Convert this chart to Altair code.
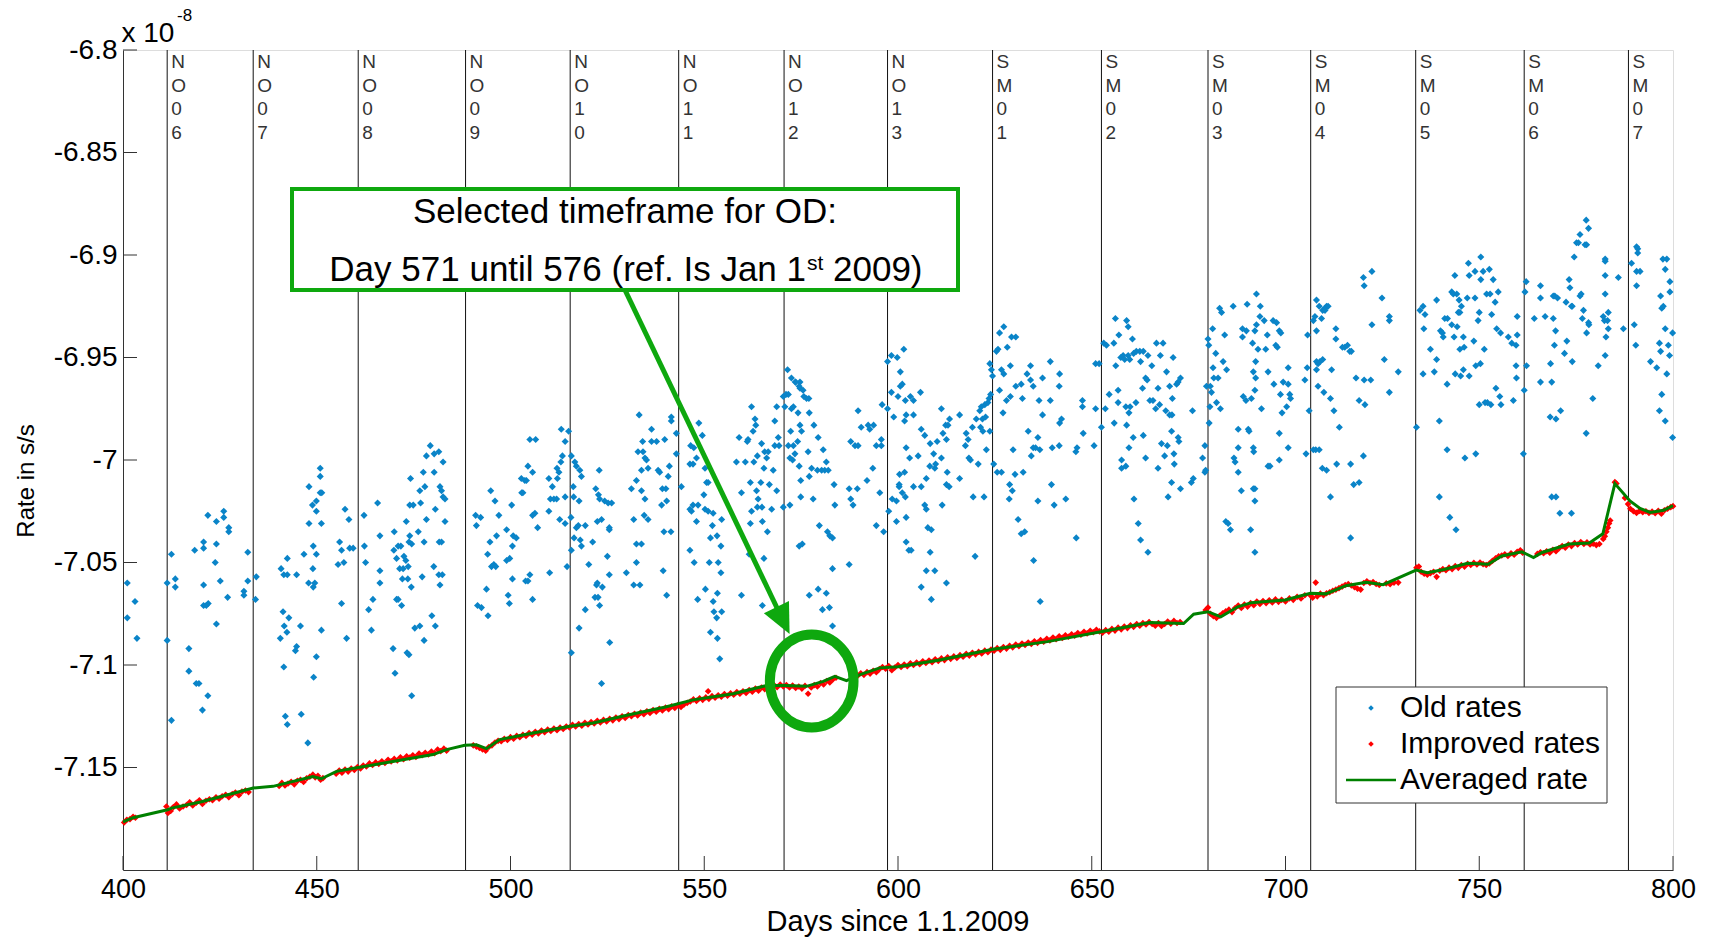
import altair as alt
import pandas as pd

FONT = "Liberation Sans"
W, H = 1550, 820
GREEN_NOTE = "#0EA80E"

# ---------------- data ----------------
maneuver_days = [411.4, 433.6, 460.7, 488.4, 515.4, 543.4, 570.6, 597.3, 624.4,
                 652.5, 680.0, 706.5, 733.6, 761.6, 788.5]
maneuver_names = ["NO06", "NO07", "NO08", "NO09", "NO10", "NO11", "NO12", "NO13",
                  "SM01", "SM02", "SM03", "SM04", "SM05", "SM06", "SM07"]
x_ticks = [400, 450, 500, 550, 600, 650, 700, 750, 800]
y_ticks = [-6.8, -6.85, -6.9, -6.95, -7.0, -7.05, -7.1, -7.15]

old_rates = [
    # arc 1
    (401.1, -7.060), (403.1, -7.069), (401.1, -7.077), (403.6, -7.087),
    # arc 2
    (412.5, -7.046), (411.4, -7.060), (413.5, -7.058), (413.5, -7.062), (411.4, -7.088), (412.5, -7.127),
    (417.0, -7.092), (417.0, -7.103), (418.5, -7.044), (418.9, -7.109), (419.6, -7.109), (420.5, -7.122),
    (420.8, -7.040), (420.8, -7.043), (420.8, -7.061), (420.8, -7.071), (421.5, -7.071), (422.0, -7.070),
    (421.9, -7.027), (421.9, -7.115), (424.1, -7.030), (424.1, -7.041), (423.8, -7.050), (424.1, -7.080),
    (425.1, -7.059), (426.0, -7.025), (426.0, -7.028), (427.0, -7.067), (427.3, -7.033), (427.3, -7.035),
    (431.2, -7.064), (431.2, -7.066), (432.2, -7.045), (432.2, -7.059),
    # arc 3
    (434.4, -7.057), (434.2, -7.068), (440.8, -7.053), (441.5, -7.056), (442.4, -7.048), (442.4, -7.056),
    (444.8, -7.056), (441.3, -7.074), (442.8, -7.077), (441.6, -7.081), (442.3, -7.084), (440.6, -7.087),
    (441.5, -7.101), (441.9, -7.125), (442.4, -7.129), (444.5, -7.093), (444.8, -7.091), (445.8, -7.081),
    (446.0, -7.124), (446.7, -7.046), (447.7, -7.138), (448.0, -7.013), (448.0, -7.031), (447.9, -7.060),
    (448.9, -7.022), (449.0, -7.053), (449.1, -7.042), (449.1, -7.062), (449.5, -7.060), (449.9, -7.046),
    (449.9, -7.020), (449.9, -7.025), (449.2, -7.106), (449.9, -7.096), (450.9, -7.004), (450.9, -7.008),
    (450.9, -7.016), (451.3, -7.016), (451.2, -7.031), (451.2, -7.083), (455.5, -7.051), (455.9, -7.040),
    (456.4, -7.070), (456.4, -7.044), (457.0, -7.050), (457.3, -7.024), (457.7, -7.087), (458.3, -7.029),
    (458.5, -7.043), (459.4, -7.043),
    # arc 4
    (462.2, -7.027), (462.3, -7.042), (462.6, -7.050), (463.4, -7.073), (464.1, -7.083), (464.5, -7.068),
    (465.7, -7.021), (466.3, -7.037), (466.3, -7.054), (466.3, -7.060), (469.7, -7.092), (470.0, -7.035),
    (470.2, -7.104), (470.6, -7.068), (471.0, -7.068), (469.9, -7.044), (470.6, -7.048), (471.0, -7.042),
    (471.7, -7.042), (471.4, -7.053), (471.9, -7.071), (472.1, -7.058), (472.3, -7.053), (472.5, -7.047),
    (473.0, -7.049), (473.1, -7.030), (473.3, -7.094), (473.5, -7.058), (473.6, -7.052), (473.8, -7.095),
    (473.8, -7.040), (474.0, -7.022), (474.0, -7.037), (474.2, -7.009), (474.4, -7.062), (474.5, -7.041),
    (474.5, -7.115), (474.9, -7.022), (475.3, -7.082), (476.2, -7.035), (476.6, -7.081), (476.8, -7.021),
    (476.6, -7.015), (477.2, -7.057), (477.5, -7.006), (477.7, -7.040), (477.7, -7.088), (477.9, -7.013),
    (478.3, -7.029), (478.3, -6.998), (479.3, -6.993), (479.7, -7.076), (480.2, -7.052), (480.3, -6.997),
    (480.3, -7.006), (480.6, -7.024), (480.6, -7.081), (481.5, -6.996), (481.5, -7.056), (481.6, -7.040),
    (481.8, -7.061), (481.8, -7.013), (482.2, -7.015), (482.2, -7.040), (482.4, -7.056), (482.6, -7.001),
    (482.6, -7.018), (483.1, -7.019), (483.1, -7.030),
    # arc 5
    (491.0, -7.027), (491.2, -7.032), (491.5, -7.071), (492.5, -7.072), (492.3, -7.028), (494.1, -7.046),
    (494.2, -7.076), (493.8, -7.063), (494.7, -7.040), (494.9, -7.015), (495.1, -7.052), (495.7, -7.051),
    (496.2, -7.052), (496.4, -7.037), (497.0, -7.027), (496.0, -7.020), (499.0, -7.034), (499.0, -7.049),
    (499.4, -7.066), (499.7, -7.070), (500.3, -7.022), (500.5, -7.058), (500.7, -7.037), (501.5, -7.038),
    (500.5, -7.042), (499.8, -7.048), (502.8, -7.009), (502.9, -7.016),
    (503.2, -7.016), (503.7, -7.010), (504.1, -7.010), (503.9, -7.059), (504.5, -7.059), (505.0, -7.056),
    (505.7, -7.068), (504.5, -7.003), (505.7, -7.006), (505.0, -6.990), (506.5, -6.990), (505.7, -7.027),
    (506.3, -7.026), (507.0, -7.033), (509.9, -7.009), (509.9, -7.025), (510.1, -7.055), (510.8, -7.013),
    (510.3, -7.019), (511.2, -7.019), (511.9, -7.019), (512.1, -7.009), (512.0, -7.004), (512.5, -7.006),
    (512.7, -7.029), (513.0, -7.001), (513.1, -6.985), (513.4, -6.998), (514.1, -6.991), (514.1, -7.031),
    (514.6, -7.052), (514.1, -7.018), (515.0, -6.986),
    # arc 6
    (515.7, -6.998), (515.6, -7.028), (515.7, -7.044), (516.2, -7.013), (516.3, -7.018), (516.6, -7.001),
    (517.0, -7.003), (516.4, -7.038), (517.0, -7.033), (517.5, -7.032), (517.7, -7.020), (517.9, -7.005),
    (518.3, -7.008), (518.0, -7.039), (518.3, -7.042), (519.3, -7.032), (519.3, -7.073), (517.7, -7.082),
    (515.7, -7.094), (520.2, -7.051), (521.2, -7.040), (522.0, -7.014), (522.2, -7.061), (522.4, -7.060),
    (522.9, -7.005), (522.7, -7.017), (523.0, -7.019), (522.4, -7.030), (523.5, -7.029), (521.8, -7.067),
    (522.6, -7.067), (523.0, -7.071), (523.7, -7.062), (523.5, -7.109), (524.3, -7.020), (525.2, -7.021),
    (526.1, -7.021), (525.5, -7.033), (525.5, -7.034), (525.0, -7.047), (525.5, -7.056), (525.6, -7.089),
    (529.9, -7.055), (531.2, -7.014), (531.8, -7.029), (531.8, -7.061), (532.5, -7.010), (532.5, -7.041),
    (532.5, -7.050), (533.2, -6.978), (532.9, -6.996), (533.4, -7.061), (533.8, -7.015), (533.8, -7.041),
    (534.1, -6.991), (534.2, -6.996), (534.5, -7.027), (534.7, -7.019), (534.7, -6.999), (535.1, -7.000),
    (535.5, -7.004), (535.5, -7.029), (533.8, -7.005), (536.4, -6.985), (536.4, -6.991), (537.7, -6.991),
    (538.1, -7.005), (538.5, -7.006), (539.0, -7.022), (539.2, -7.014), (539.4, -7.054), (539.6, -7.035),
    (539.8, -6.990), (540.1, -7.014), (540.3, -7.020), (540.3, -7.066), (540.7, -7.008), (541.0, -7.003),
    (541.4, -7.035), (541.5, -6.979), (541.5, -6.981), (542.8, -6.987), (542.8, -6.997),
    # arc 7
    (544.1, -7.013), (546.5, -6.993), (546.3, -7.002), (547.1, -7.002), (547.3, -6.994), (548.0, -6.999),
    (548.6, -6.982), (549.5, -6.988), (546.3, -7.024), (546.7, -7.025), (547.1, -7.022), (548.0, -7.030),
    (548.4, -7.022), (546.3, -7.044), (547.4, -7.050), (548.3, -7.068), (550.2, -7.004), (550.3, -7.063),
    (550.6, -7.011), (551.0, -7.011), (549.9, -7.017), (550.2, -7.024), (551.0, -7.025), (552.3, -7.026),
    (552.1, -7.032), (551.3, -7.050), (551.6, -7.038), (552.3, -7.069), (552.5, -7.074), (553.2, -7.077),
    (553.3, -7.037), (553.6, -7.050), (553.4, -7.065), (554.3, -7.055), (554.5, -7.074), (554.5, -7.029),
    (551.6, -7.084), (553.4, -7.087), (554.0, -7.097), (554.3, -7.042), (559.0, -6.989), (558.3, -7.001),
    (560.6, -7.001), (559.6, -7.016), (559.6, -7.066), (561.1, -6.991), (561.3, -6.990), (561.6, -7.046),
    (561.9, -7.031), (561.9, -7.011), (562.2, -6.974), (562.2, -7.025), (562.6, -6.986), (562.8, -7.001),
    (563.1, -6.980), (563.3, -6.983), (563.5, -7.015), (563.7, -6.998), (563.7, -7.023), (563.9, -7.019),
    (564.6, -7.011), (564.8, -6.992), (564.9, -7.023), (565.0, -7.030), (565.0, -7.071), (565.4, -7.004),
    (565.4, -7.048), (565.6, -6.996), (566.1, -6.999), (566.3, -7.035), (566.5, -6.996), (566.8, -7.012),
    (567.4, -7.024), (567.8, -7.005), (568.2, -6.981), (568.2, -6.993), (568.7, -7.015), (568.7, -6.974),
    (569.1, -6.989), (569.3, -6.993), (570.4, -6.969), (570.4, -7.023),
    # arc 8
    (570.8, -6.974), (571.1, -6.968), (571.7, -6.968), (571.7, -6.993), (572.5, -6.975), (573.0, -6.974),
    (572.3, -6.986), (572.1, -6.999), (572.8, -7.000), (573.4, -6.997), (573.0, -6.993), (573.6, -6.962),
    (574.7, -6.962), (574.7, -6.965), (574.2, -6.977), (574.1, -6.991), (574.5, -7.003), (574.7, -6.983),
    (575.1, -6.986), (574.9, -7.010), (574.9, -7.018), (572.1, -7.022), (574.5, -7.042), (575.3, -7.041),
    (575.7, -6.969), (576.4, -6.970), (577.1, -6.977), (576.8, -6.996), (577.7, -7.004), (577.1, -7.008),
    (578.3, -6.983), (578.1, -7.019), (579.4, -6.989), (579.7, -7.032), (579.2, -7.005), (580.3, -7.005),
    (580.7, -6.995), (581.1, -7.005), (581.5, -7.001), (582.0, -7.005), (581.8, -7.035), (582.4, -7.037),
    (583.1, -7.038), (583.5, -7.012), (583.7, -7.022), (583.1, -7.053), (577.1, -7.066), (579.4, -7.063),
    (581.5, -7.065), (580.5, -7.073), (582.3, -7.072), (583.1, -7.081), (587.4, -7.051), (587.4, -7.014),
    (588.4, -7.022), (587.8, -7.019), (587.8, -6.991), (588.9, -6.993), (589.7, -6.976), (589.7, -6.993),
    (589.5, -7.014), (571.5, -6.956), (572.5, -6.960), (573.5, -6.962), (574.5, -6.964), (575.5, -6.966),
    (577.0, -6.970),
    (590.5, -6.984), (592.3, -6.983), (592.7, -6.985), (593.7, -6.983), (594.4, -6.993), (595.7, -6.993),
    (595.7, -6.990), (593.5, -7.004), (592.0, -7.010), (595.3, -7.016), (594.4, -7.032), (596.3, -7.035),
    (595.9, -6.973),
    # arc 9
    (597.3, -6.952), (597.3, -6.975), (597.6, -7.025), (598.3, -6.949), (598.3, -6.967), (598.9, -6.979),
    (598.5, -7.019), (599.6, -7.020), (599.6, -7.030), (599.8, -6.950), (600.0, -6.969), (600.3, -7.012),
    (600.3, -7.013), (600.4, -7.007), (600.6, -6.957), (600.6, -6.964), (601.1, -6.963), (601.1, -7.016),
    (601.5, -6.946), (601.7, -6.981), (601.9, -6.971), (602.1, -6.978), (602.1, -6.994), (601.7, -7.006),
    (601.9, -7.018), (602.1, -7.028), (602.1, -7.040), (602.8, -7.044), (603.4, -7.044), (603.0, -6.999),
    (603.2, -6.969), (604.0, -6.978), (604.0, -6.971), (604.0, -7.013), (605.2, -6.998), (605.8, -6.967),
    (606.0, -6.985), (606.0, -7.013), (606.0, -7.062), (606.9, -6.988), (606.9, -7.022), (607.3, -7.024),
    (607.3, -7.009), (607.3, -7.054), (607.7, -7.033), (608.3, -6.992), (608.6, -7.034), (608.3, -7.045),
    (608.6, -7.068), (609.2, -6.997), (609.5, -7.004), (609.5, -7.054), (609.7, -7.002), (610.1, -6.991),
    (608.2, -7.003), (611.2, -6.975), (611.2, -6.999), (611.4, -7.022), (611.6, -6.987), (612.3, -6.983),
    (612.5, -6.990), (612.7, -7.006), (612.5, -7.012), (613.2, -7.013), (612.5, -7.060), (613.3, -6.980),
    (612.9, -6.983), (615.9, -6.978), (615.9, -7.009), (617.4, -6.993), (617.6, -6.987), (618.1, -6.990),
    (618.3, -6.999), (618.7, -7.000), (619.2, -6.984), (619.4, -7.018), (619.9, -7.047), (620.2, -6.980),
    (620.7, -7.002), (621.1, -6.976), (621.3, -6.984), (621.5, -6.974), (621.8, -6.980), (621.9, -6.986),
    (622.2, -7.018), (622.4, -6.973), (622.6, -6.979), (622.8, -6.995), (623.2, -6.972), (623.5, -6.970),
    (623.7, -6.986), (623.7, -6.953), (624.1, -6.956), (624.4, -6.959), (623.9, -6.968),
    # arc 10
    (624.7, -7.002), (625.4, -6.947), (625.8, -6.946), (625.6, -7.006), (626.7, -7.006), (626.2, -6.938),
    (626.2, -6.966), (626.7, -6.956), (627.1, -6.977), (627.3, -6.935), (627.3, -6.958), (628.0, -6.971),
    (628.2, -6.945), (628.8, -7.012), (629.0, -6.969), (629.0, -6.954), (629.3, -6.940), (628.7, -7.019),
    (629.5, -7.015), (629.7, -6.995), (630.4, -6.940), (630.4, -6.964), (630.2, -7.007), (631.0, -7.029),
    (631.8, -6.963), (632.1, -6.970), (632.3, -7.006), (631.8, -7.036), (632.7, -7.035), (633.3, -6.958),
    (633.6, -6.986), (634.2, -6.954), (634.2, -6.961), (634.4, -6.998), (634.9, -6.964), (634.9, -6.994),
    (635.0, -7.049), (635.5, -6.994), (636.1, -6.989), (636.1, -7.020), (636.4, -6.971), (636.6, -6.995),
    (636.7, -7.069), (637.3, -6.960), (637.3, -6.978), (639.3, -6.952), (639.3, -6.971), (639.6, -7.012),
    (639.8, -6.994), (640.3, -7.022), (641.6, -6.964), (641.7, -6.958), (641.6, -6.993), (641.7, -6.982),
    (642.2, -6.980), (643.3, -7.019), (645.9, -6.996), (646.2, -6.994), (646.0, -7.038), (647.6, -6.971),
    (647.6, -6.974), (647.8, -6.987), (650.6, -6.993), (651.0, -6.953), (651.0, -6.975), (651.9, -6.953),
    (652.5, -6.984),
    # arc 11
    (653.1, -6.943), (653.8, -6.944), (653.5, -6.975), (654.5, -6.968), (655.8, -6.982), (656.1, -6.931),
    (655.7, -6.943), (656.2, -6.954), (656.8, -6.966), (656.8, -6.972), (657.0, -6.939), (657.7, -7.000),
    (657.7, -7.004), (657.5, -6.950), (658.1, -6.949), (658.5, -6.951), (658.8, -7.003), (658.8, -6.974),
    (659.0, -6.983), (659.0, -6.932), (659.4, -6.935), (659.4, -6.949), (659.6, -6.977), (659.8, -6.951),
    (659.6, -6.994), (659.9, -6.974), (660.5, -6.941), (660.7, -6.989), (660.8, -6.948), (660.9, -7.019),
    (661.4, -6.972), (661.5, -6.947), (662.0, -7.031), (662.4, -6.947), (662.6, -6.952), (662.6, -7.039),
    (663.3, -6.947), (663.1, -6.965), (663.3, -6.988), (663.9, -6.999), (663.9, -6.960), (664.3, -6.961),
    (664.5, -7.045), (664.5, -6.949), (665.0, -6.971), (665.5, -6.954), (665.8, -6.971), (666.5, -6.975),
    (666.7, -6.943), (667.1, -6.965), (667.1, -7.004), (667.5, -6.973), (667.7, -6.949), (668.0, -6.992),
    (668.4, -6.943), (668.8, -6.998), (669.1, -6.976), (669.3, -6.957), (669.5, -6.993), (669.7, -7.018),
    (670.1, -6.964), (670.1, -6.978), (670.6, -6.986), (670.6, -7.011), (670.7, -6.978), (670.8, -6.970),
    (671.0, -6.950), (671.2, -6.997), (671.3, -7.002), (671.9, -6.963), (672.3, -6.989), (672.3, -6.962),
    (672.5, -6.991), (672.9, -6.960), (672.9, -7.014), (675.7, -7.011), (676.0, -6.976), (676.2, -7.009),
    (678.6, -6.999), (679.2, -7.006), (679.2, -6.993), (679.6, -6.964), (679.4, -7.005),
    # arc 12
    (680.0, -6.941), (680.2, -6.944), (680.6, -6.964), (680.5, -6.974), (680.3, -6.982), (680.9, -6.967),
    (681.2, -6.936), (681.3, -6.955), (681.5, -6.960), (682.2, -6.972), (682.0, -6.948), (682.6, -6.960),
    (683.0, -6.926), (683.5, -6.928), (683.2, -6.975), (683.9, -6.952), (684.3, -6.939), (684.8, -6.956),
    (684.6, -7.030), (685.2, -7.031), (685.8, -7.034), (686.5, -6.925), (686.7, -6.999), (687.0, -7.001),
    (687.8, -6.985), (687.8, -6.994), (687.8, -7.006), (688.6, -7.015), (688.9, -6.936), (688.9, -6.940),
    (689.1, -6.969), (689.8, -6.971), (690.1, -6.924), (689.9, -6.937), (690.4, -6.985), (690.6, -6.986),
    (691.0, -7.034), (691.2, -6.970), (691.5, -6.943), (691.7, -6.957), (691.7, -6.994), (691.8, -6.996),
    (691.7, -7.014), (692.1, -7.014), (692.1, -7.020), (692.1, -7.045), (692.1, -6.937), (692.1, -6.966),
    (692.3, -6.952), (692.3, -6.960), (692.5, -6.919), (692.5, -6.934), (692.9, -6.946), (693.4, -6.930),
    (693.5, -6.925), (693.8, -6.975), (694.5, -6.932), (694.9, -6.946), (695.3, -6.939), (695.5, -6.957),
    (695.5, -7.003),
    (696.8, -6.932), (697.7, -6.933), (698.4, -6.937), (698.8, -6.938), (697.5, -6.944), (697.9, -6.945),
    (700.7, -6.955), (697.0, -6.963), (699.4, -6.962), (700.7, -6.963), (698.7, -6.968), (701.1, -6.968),
    (701.3, -6.970), (700.3, -6.974), (699.1, -6.977), (698.4, -6.987), (700.7, -6.994), (698.4, -7.000),
    (696.0, -7.003), (705.0, -6.961), (705.6, -6.955), (705.7, -6.939), (706.1, -6.976), (705.3, -6.997),
    # arc 13
    (707.2, -6.932), (707.6, -6.930), (708.0, -6.922), (708.0, -6.937), (708.7, -6.925), (709.3, -6.931),
    (709.6, -6.927), (710.2, -6.926), (710.6, -6.925), (711.0, -6.925), (710.2, -6.927), (708.0, -6.952),
    (708.4, -6.953), (708.9, -6.952), (709.6, -6.951), (708.0, -6.956), (708.4, -6.964), (709.9, -6.967),
    (711.6, -6.970), (711.9, -6.956), (712.5, -6.976), (713.0, -6.936), (713.0, -6.941), (713.9, -6.984),
    (714.7, -6.945), (715.3, -6.945), (716.0, -6.944), (716.6, -6.947), (717.0, -6.947), (718.2, -6.960),
    (719.0, -6.971), (720.3, -6.961), (720.5, -6.973), (722.0, -6.961), (720.1, -6.911), (720.3, -6.915),
    (722.3, -6.908), (722.3, -6.934), (724.9, -6.921), (725.5, -6.951), (726.8, -6.930), (726.8, -6.932),
    (726.8, -6.967), (729.1, -6.957), (707.2, -6.995), (707.8, -6.995), (708.7, -6.995), (709.5, -7.004),
    (710.6, -7.005), (711.6, -7.018), (713.2, -7.002), (716.8, -7.002), (716.8, -7.038), (717.6, -7.012),
    (719.0, -7.011), (720.1, -6.998),
    # arc 14
    (733.8, -6.984), (734.7, -6.927), (735.5, -6.925), (736.0, -6.929), (735.7, -6.936), (735.5, -6.958),
    (737.4, -6.946), (738.4, -6.957), (739.0, -6.922), (739.0, -6.951), (739.7, -6.981), (739.7, -7.018),
    (740.0, -6.937), (740.5, -6.938), (740.7, -6.940), (741.1, -6.931), (741.7, -6.963), (741.7, -6.995),
    (741.8, -6.931), (742.4, -7.028), (742.9, -6.918), (742.9, -6.934), (743.3, -6.919), (743.5, -6.940),
    (743.7, -6.910), (743.8, -6.958), (744.0, -7.034), (744.2, -6.919), (744.3, -6.935), (744.6, -6.928),
    (744.8, -6.922), (745.0, -6.946), (745.0, -6.928), (745.2, -6.959), (745.4, -6.925), (745.9, -6.940),
    (745.9, -6.956), (746.1, -6.945), (746.3, -6.999), (746.9, -6.921), (747.2, -6.904), (747.4, -6.910),
    (747.4, -6.959), (748.6, -6.942), (748.9, -6.921), (748.9, -6.908), (749.1, -6.954), (749.1, -6.997),
    (749.7, -6.932), (750.0, -6.928), (750.0, -6.973), (750.3, -6.953), (750.4, -6.901), (750.4, -6.912),
    (751.0, -6.908), (751.3, -6.946), (751.5, -6.972), (751.9, -6.919), (752.1, -6.972), (752.6, -6.907),
    (752.8, -6.919), (753.0, -6.973), (753.2, -6.929), (753.6, -6.912), (754.1, -6.923), (754.3, -6.965),
    (754.5, -6.936), (754.9, -6.918), (755.3, -6.969), (755.5, -6.938), (755.6, -6.973), (757.5, -6.940),
    (758.4, -6.943), (758.8, -6.971), (759.5, -6.944), (759.5, -6.954), (759.6, -6.960), (759.8, -6.939),
    (759.8, -6.930), (761.4, -6.997), (761.6, -6.966),
    # arc 15
    (762.1, -6.913), (761.8, -6.918), (762.2, -6.954), (764.2, -6.931), (765.8, -6.915), (765.8, -6.921),
    (765.8, -6.962), (767.0, -6.930), (768.4, -6.953), (768.7, -6.962), (768.3, -6.979), (768.7, -7.018),
    (769.1, -6.920), (769.1, -6.931), (769.5, -6.920), (769.7, -6.937), (769.4, -6.944), (769.8, -6.980),
    (769.8, -7.018), (770.2, -6.921), (770.8, -7.026), (771.0, -6.976), (772.0, -6.948), (772.4, -6.923),
    (772.6, -6.942), (773.2, -6.912), (773.4, -6.916), (773.8, -6.925), (773.8, -7.026), (774.0, -6.952),
    (774.0, -6.925), (774.5, -6.901), (775.1, -6.894), (775.6, -6.894), (776.0, -6.890), (776.0, -6.920),
    (776.3, -6.919), (776.6, -6.931), (776.9, -6.927), (777.3, -6.895), (777.6, -6.883), (777.7, -6.938),
    (777.7, -6.895), (778.2, -6.887), (778.2, -6.933), (778.3, -6.934), (777.6, -6.987), (779.3, -6.970),
    (780.7, -6.954), (782.0, -6.930), (782.3, -6.932), (782.5, -6.902), (782.5, -6.903), (782.5, -6.910),
    (782.5, -6.919), (782.7, -6.940), (782.5, -6.949), (783.1, -6.932), (783.3, -6.928), (783.3, -6.936),
    (785.9, -6.911), (787.2, -6.936),
    # arc 16
    (789.3, -6.904), (790.0, -6.934), (790.4, -6.944), (790.6, -6.896), (790.9, -6.897), (790.9, -6.899),
    (790.6, -6.908), (791.5, -6.908), (790.6, -6.915), (794.2, -6.952), (795.8, -6.955), (796.5, -6.943),
    (796.5, -6.976), (796.8, -6.947), (797.1, -6.926), (797.5, -6.925), (796.8, -6.920), (797.4, -6.902),
    (798.4, -6.902), (798.0, -6.907), (798.0, -6.936), (798.4, -6.958), (798.8, -6.944), (799.1, -6.949),
    (799.2, -6.913), (799.2, -6.918), (797.1, -6.968), (798.0, -6.981), (799.9, -6.938), (799.9, -6.989),
]

improved_rates = [
    (400.3, -7.1768), (401.0, -7.1755), (401.8, -7.1752), (402.6, -7.1740), (403.2, -7.1745),
    (411.2, -7.1690), (411.6, -7.1722), (412.3, -7.1712), (413.0, -7.1693), (413.8, -7.1680), (414.6, -7.1700),
    (415.5, -7.1690), (416.4, -7.1683), (417.2, -7.1670), (418.0, -7.1685), (418.9, -7.1672), (419.7, -7.1660),
    (420.5, -7.1678), (421.4, -7.1662), (422.3, -7.1655), (423.1, -7.1660), (424.0, -7.1645), (424.8, -7.1652),
    (425.6, -7.1640), (426.5, -7.1633), (427.3, -7.1645), (428.2, -7.1630), (429.0, -7.1622), (429.9, -7.1635),
    (430.7, -7.1618), (431.6, -7.1612), (432.4, -7.1620),
    (440.3, -7.1590), (441.0, -7.1575), (441.8, -7.1588), (442.6, -7.1578), (443.4, -7.1570), (444.2, -7.1582),
    (445.0, -7.1565), (445.8, -7.1560), (446.6, -7.1571), (447.4, -7.1553), (448.2, -7.1545), (449.0, -7.1535),
    (449.6, -7.1548), (450.3, -7.1540), (451.0, -7.1560), (451.6, -7.1552),
    (455.0, -7.1530), (455.8, -7.1515), (456.5, -7.1525), (457.3, -7.1510), (458.1, -7.1520), (458.9, -7.1505),
    (459.7, -7.1512), (460.5, -7.1498), (461.3, -7.1505), (462.0, -7.1490), (462.8, -7.1495), (463.6, -7.1480),
    (464.4, -7.1488), (465.2, -7.1475), (466.0, -7.1482), (466.8, -7.1470), (467.6, -7.1478), (468.4, -7.1462),
    (469.2, -7.1470), (470.0, -7.1458), (470.8, -7.1465), (471.6, -7.1450), (472.4, -7.1460), (473.2, -7.1445),
    (474.0, -7.1452), (474.8, -7.1440), (475.6, -7.1448), (476.4, -7.1432), (477.2, -7.1440), (478.0, -7.1428),
    (478.8, -7.1436), (479.6, -7.1422), (480.4, -7.1430), (481.2, -7.1412), (482.0, -7.1420), (482.8, -7.1408),
    (483.5, -7.1418),
    (490.4, -7.1392), (491.2, -7.1398), (492.0, -7.1405), (492.8, -7.1412), (493.6, -7.1418), (494.4, -7.1400),
    (495.2, -7.1392), (496.0, -7.1378), (496.8, -7.1370), (497.6, -7.1372), (498.4, -7.1360), (499.2, -7.1366),
    (500.0, -7.1352), (500.8, -7.1360), (501.6, -7.1346), (502.4, -7.1352), (503.2, -7.1340), (504.0, -7.1346),
    (504.8, -7.1332), (505.6, -7.1340), (506.4, -7.1326), (507.2, -7.1334), (508.0, -7.1320), (508.8, -7.1328),
    (509.6, -7.1315), (510.4, -7.1322), (511.2, -7.1310), (512.0, -7.1318), (512.8, -7.1305), (513.6, -7.1312),
    (514.4, -7.1300), (515.2, -7.1305), (516.0, -7.1292), (516.8, -7.1300), (517.6, -7.1288), (518.4, -7.1296),
    (519.2, -7.1282), (520.0, -7.1290), (520.8, -7.1278), (521.6, -7.1285),
    (522.4, -7.1272), (523.2, -7.1280), (524.0, -7.1268), (524.8, -7.1275), (525.6, -7.1262), (526.4, -7.1270),
    (527.2, -7.1256), (528.0, -7.1264), (528.8, -7.1250), (529.6, -7.1258), (530.4, -7.1244), (531.2, -7.1250),
    (532.0, -7.1238), (532.8, -7.1246), (533.6, -7.1232), (534.4, -7.1240), (535.2, -7.1226), (536.0, -7.1234),
    (536.8, -7.1220), (537.6, -7.1228), (538.4, -7.1214), (539.2, -7.1222), (540.0, -7.1208), (540.8, -7.1216),
    (541.6, -7.1202), (542.4, -7.1210), (543.2, -7.1196),
    (544.0, -7.1205), (544.8, -7.1192), (545.6, -7.1185), (546.4, -7.1178), (547.2, -7.1168), (548.0, -7.1175),
    (548.8, -7.1162), (549.6, -7.1170), (550.4, -7.1158), (551.0, -7.1128), (551.2, -7.1165), (552.0, -7.1152),
    (552.8, -7.1160), (553.6, -7.1148), (554.4, -7.1155), (555.2, -7.1142), (556.0, -7.1150), (556.8, -7.1138),
    (557.6, -7.1145), (558.4, -7.1132), (559.2, -7.1140), (560.0, -7.1128), (560.8, -7.1136), (561.6, -7.1122),
    (562.4, -7.1130), (563.2, -7.1115), (564.0, -7.1125), (564.8, -7.1110), (565.6, -7.1118), (566.4, -7.1102),
    (567.2, -7.1112), (568.0, -7.1098), (568.8, -7.1108), (569.6, -7.1095), (570.4, -7.1105), (571.2, -7.1098),
    (572.0, -7.1110), (572.8, -7.1100), (573.6, -7.1112), (574.4, -7.1105), (575.2, -7.1115), (576.0, -7.1102),
    (576.8, -7.1140), (577.6, -7.1110), (578.4, -7.1098), (579.2, -7.1105), (580.0, -7.1088), (580.8, -7.1095),
    (581.6, -7.1078), (582.4, -7.1085), (583.2, -7.1070), (584.0, -7.1062),
    (589.6, -7.1052), (590.4, -7.1040), (591.2, -7.1048), (592.0, -7.1035), (592.8, -7.1042), (593.6, -7.1028),
    (594.4, -7.1035), (595.2, -7.1020), (596.0, -7.1010), (596.8, -7.1018), (597.6, -7.1005), (598.4, -7.1025),
    (599.2, -7.1012), (600.0, -7.1000),
    (600.8, -7.1010), (601.6, -7.0998), (602.4, -7.1006), (603.2, -7.0992), (604.0, -7.1000), (604.8, -7.0988),
    (605.6, -7.0996), (606.4, -7.0982), (607.2, -7.0990), (608.0, -7.0978), (608.8, -7.0986), (609.6, -7.0972),
    (610.4, -7.0980), (611.2, -7.0968), (612.0, -7.0976), (612.8, -7.0962), (613.6, -7.0970), (614.4, -7.0958),
    (615.2, -7.0966), (616.0, -7.0952), (616.8, -7.0960), (617.6, -7.0946), (618.4, -7.0954), (619.2, -7.0940),
    (620.0, -7.0948), (620.8, -7.0936), (621.6, -7.0944), (622.4, -7.0930), (623.2, -7.0938), (624.0, -7.0925),
    (624.8, -7.0930), (625.6, -7.0918), (626.4, -7.0926), (627.2, -7.0912), (628.0, -7.0920), (628.8, -7.0906),
    (629.6, -7.0914), (630.4, -7.0900), (631.2, -7.0908), (632.0, -7.0895), (632.8, -7.0902), (633.6, -7.0890),
    (634.4, -7.0897), (635.2, -7.0884), (636.0, -7.0892), (636.8, -7.0878), (637.6, -7.0886), (638.4, -7.0872),
    (639.2, -7.0880), (640.0, -7.0866), (640.8, -7.0874), (641.6, -7.0860), (642.4, -7.0868), (643.2, -7.0855),
    (644.0, -7.0862), (644.8, -7.0850), (645.6, -7.0857), (646.4, -7.0844), (647.2, -7.0852), (648.0, -7.0838),
    (648.8, -7.0846), (649.6, -7.0833), (650.4, -7.0840), (651.2, -7.0828), (652.0, -7.0836),
    (652.8, -7.0842), (653.6, -7.0830), (654.4, -7.0838), (655.2, -7.0824), (656.0, -7.0832), (656.8, -7.0818),
    (657.6, -7.0826), (658.4, -7.0812), (659.2, -7.0820), (660.0, -7.0806), (660.8, -7.0814), (661.6, -7.0800),
    (662.4, -7.0808), (663.2, -7.0795), (664.0, -7.0802), (664.8, -7.0790), (665.6, -7.0800), (666.4, -7.0808),
    (667.2, -7.0795), (668.0, -7.0810), (668.8, -7.0800), (669.6, -7.0788), (670.4, -7.0798), (671.2, -7.0785),
    (672.0, -7.0795), (672.8, -7.0790),
    (679.4, -7.0732), (680.0, -7.0720), (680.6, -7.0750), (681.4, -7.0762), (682.2, -7.0770), (683.0, -7.0760),
    (683.8, -7.0748), (684.6, -7.0738), (685.4, -7.0730), (686.2, -7.0742), (687.0, -7.0722), (687.8, -7.0710),
    (688.6, -7.0722), (689.4, -7.0705), (690.2, -7.0715), (691.0, -7.0698), (691.8, -7.0708), (692.6, -7.0690),
    (693.4, -7.0702), (694.2, -7.0688), (695.0, -7.0698), (695.8, -7.0684), (696.6, -7.0695), (697.4, -7.0680),
    (698.2, -7.0692), (699.0, -7.0682), (700.0, -7.0690), (701.0, -7.0675), (702.0, -7.0682), (703.0, -7.0668),
    (704.0, -7.0675), (705.0, -7.0660),
    (706.4, -7.0660), (707.0, -7.0672), (707.8, -7.0598), (708.2, -7.0665), (709.0, -7.0652), (709.8, -7.0660),
    (710.6, -7.0650), (711.4, -7.0645), (712.2, -7.0638), (713.0, -7.0632), (713.8, -7.0625), (714.6, -7.0618),
    (715.4, -7.0610), (716.2, -7.0605), (717.0, -7.0612), (717.8, -7.0620), (718.6, -7.0628), (719.4, -7.0632),
    (720.2, -7.0600), (721.0, -7.0592), (721.8, -7.0600), (722.6, -7.0595), (723.4, -7.0605), (724.2, -7.0610),
    (726.0, -7.0602), (727.0, -7.0606), (728.0, -7.0598), (729.1, -7.0598),
    (733.8, -7.0525), (734.4, -7.0520), (735.0, -7.0545), (735.8, -7.0555), (736.6, -7.0560), (737.4, -7.0552),
    (738.2, -7.0545), (739.0, -7.0570), (739.8, -7.0540), (740.6, -7.0532), (741.4, -7.0538), (742.2, -7.0525),
    (743.0, -7.0532), (743.8, -7.0518), (744.6, -7.0526), (745.4, -7.0512), (746.2, -7.0520), (747.0, -7.0506),
    (747.8, -7.0512), (748.6, -7.0502), (749.4, -7.0510), (750.2, -7.0500), (751.0, -7.0508), (751.8, -7.0512),
    (752.6, -7.0505), (753.4, -7.0492), (754.2, -7.0480), (755.0, -7.0470), (755.8, -7.0466), (756.6, -7.0460),
    (757.4, -7.0468), (758.2, -7.0455), (759.0, -7.0462), (759.8, -7.0448), (760.6, -7.0440), (761.2, -7.0452),
    (765.0, -7.0458), (765.8, -7.0450), (766.6, -7.0455), (767.4, -7.0445), (768.2, -7.0452), (769.0, -7.0438),
    (769.8, -7.0445), (770.6, -7.0430), (771.4, -7.0420), (772.2, -7.0428), (773.0, -7.0412), (773.8, -7.0420),
    (774.6, -7.0405), (775.4, -7.0412), (776.2, -7.0400), (777.0, -7.0410), (777.8, -7.0402), (778.6, -7.0412),
    (779.4, -7.0408), (780.2, -7.0415), (781.0, -7.0410),
    (782.0, -7.0385), (782.4, -7.0372), (782.8, -7.0350), (783.2, -7.0330), (783.5, -7.0310), (783.8, -7.0295),
    (785.0, -7.0108), (785.4, -7.0115),
    (787.6, -7.0185), (788.4, -7.0215), (789.0, -7.0238), (789.8, -7.0250), (790.6, -7.0258), (791.4, -7.0248),
    (792.2, -7.0255), (793.0, -7.0250), (793.8, -7.0258), (794.6, -7.0252), (795.4, -7.0260), (796.2, -7.0248),
    (797.0, -7.0262), (797.8, -7.0245), (798.6, -7.0238), (799.4, -7.0230), (800.0, -7.0225),
]

averaged_rate = [
    (400.0, -7.1765), (402.6, -7.1745), (411.5, -7.1706), (412.5, -7.1698), (420.0, -7.1668),
    (433.6, -7.1600), (438.7, -7.1592), (449.0, -7.1544), (451.2, -7.1555), (455.1, -7.1519),
    (460.7, -7.1500), (470.0, -7.1470), (480.0, -7.1437), (483.5, -7.1413), (488.2, -7.1392),
    (491.2, -7.1389), (493.8, -7.1408), (497.2, -7.1364), (505.8, -7.1332), (515.3, -7.1299),
    (521.3, -7.1283), (530.0, -7.1245), (540.0, -7.1205), (547.1, -7.1170), (557.5, -7.1140),
    (566.1, -7.1100), (570.8, -7.1100), (576.4, -7.1104), (580.7, -7.1080), (583.7, -7.1055),
    (586.7, -7.1076), (590.2, -7.1047), (595.3, -7.1014), (600.0, -7.1009), (610.4, -7.0977),
    (624.5, -7.0923), (638.6, -7.0886), (652.7, -7.0837), (665.0, -7.0793), (673.7, -7.0798),
    (676.3, -7.0752), (680.0, -7.0740), (683.3, -7.0765), (687.7, -7.0716), (691.2, -7.0696),
    (699.9, -7.0683), (706.4, -7.0650), (710.4, -7.0653), (715.6, -7.0613), (720.8, -7.0597),
    (725.2, -7.0608), (733.7, -7.0537), (736.6, -7.0550), (740.9, -7.0534), (747.0, -7.0504),
    (752.3, -7.0509), (755.8, -7.0468), (761.0, -7.0448), (764.0, -7.0476), (766.2, -7.0451),
    (773.2, -7.0410), (778.4, -7.0405), (781.9, -7.0360), (785.0, -7.0115), (788.9, -7.0200),
    (791.5, -7.0236), (794.1, -7.0256), (797.6, -7.0245), (800.0, -7.0223),
]

# ---------------- frames ----------------
man_df = pd.DataFrame({"day": maneuver_days,
                       "label": ["\n".join(list(n)) for n in maneuver_names]})
old_df = pd.DataFrame(old_rates, columns=["day", "rate"])
imp_df = pd.DataFrame(improved_rates, columns=["day", "rate"])
avg_df = pd.DataFrame(averaged_rate, columns=["day", "rate"])
ytick_df = pd.DataFrame({"v": y_ticks})
xtick_df = pd.DataFrame({"v": x_ticks})
one = pd.DataFrame({"k": [0]})

xs = alt.Scale(domain=[400, 800], nice=False, zero=False)
ys = alt.Scale(domain=[-7.2, -6.8], nice=False, zero=False)

x_axis = alt.Axis(values=x_ticks, title=None, grid=False, ticks=False, tickSize=0,
                  labelFontSize=27, labelFont=FONT, labelColor="black", labelPadding=6,
                  labelFlush=False, labelOverlap=False, domainColor="#333333", domainWidth=1)
y_axis = alt.Axis(values=y_ticks, title=None, grid=False, ticks=False, tickSize=0,
                  labelFontSize=28, labelFont=FONT, labelColor="black", labelPadding=6,
                  labelFlush=False, labelOverlap=False, labelExpr="'' + datum.value",
                  domainColor="#333333", domainWidth=1)

X_DAY = alt.X("day:Q", scale=xs, axis=x_axis)
Y_RATE = alt.Y("rate:Q", scale=ys, axis=y_axis)

vlines = alt.Chart(man_df).mark_rule(color="#111111", strokeWidth=1).encode(
    x=X_DAY, y=alt.value(0), y2=alt.value(H))

mlabels = alt.Chart(man_df).mark_text(
    align="left", baseline="top", dx=4, fontSize=19, lineHeight=23.5, lineBreak="\n",
    font=FONT, color="#333333").encode(
    x=X_DAY, y=alt.value(3), text="label:N")

yticks = alt.Chart(ytick_df).mark_rule(color="#333333", strokeWidth=1).encode(
    y=alt.Y("v:Q", scale=ys, axis=y_axis), x=alt.value(0), x2=alt.value(14))
xticks = alt.Chart(xtick_df).mark_rule(color="#333333", strokeWidth=1).encode(
    x=alt.X("v:Q", scale=xs, axis=x_axis), y=alt.value(H), y2=alt.value(H - 14))

old_pts = alt.Chart(old_df).mark_point(shape="diamond", filled=True, size=50,
                                       color="#0A84C8", opacity=1).encode(x=X_DAY, y=Y_RATE)

imp_pts = alt.Chart(imp_df).mark_point(shape="diamond", filled=True, size=44,
                                       color="#FF0000", opacity=1).encode(x=X_DAY, y=Y_RATE)

avg_line = alt.Chart(avg_df).mark_line(color="#008000", strokeWidth=3).encode(x=X_DAY, y=Y_RATE)

# annotation box and arrow
note_box = alt.Chart(one).mark_rect(fill="white", stroke=GREEN_NOTE, strokeWidth=4).encode(
    x=alt.value(169), x2=alt.value(835), y=alt.value(139), y2=alt.value(240))
note1 = alt.Chart(one).mark_text(align="center", baseline="alphabetic", fontSize=35,
                                 font=FONT, color="black").encode(
    x=alt.value(502), y=alt.value(173), text=alt.value("Selected timeframe for OD:"))
note2a = alt.Chart(one).mark_text(align="right", baseline="alphabetic", fontSize=35,
                                  font=FONT, color="black").encode(
    x=alt.value(683), y=alt.value(231), text=alt.value("Day 571 until 576 (ref. Is Jan 1"))
note2b = alt.Chart(one).mark_text(align="left", baseline="alphabetic", fontSize=21,
                                  font=FONT, color="black").encode(
    x=alt.value(684), y=alt.value(220), text=alt.value("st"))
note2c = alt.Chart(one).mark_text(align="left", baseline="alphabetic", fontSize=35,
                                  font=FONT, color="black").encode(
    x=alt.value(710), y=alt.value(231), text=alt.value("2009)"))
arrow_shaft = alt.Chart(one).mark_rule(color=GREEN_NOTE, strokeWidth=5).encode(
    x=alt.value(502), y=alt.value(240), x2=alt.value(655), y2=alt.value(560))
arrow_head = alt.Chart(one).mark_point(shape="M-0.93,-1L0.93,-1L0,1Z", filled=True, size=900,
                                       angle=334, color=GREEN_NOTE, opacity=1).encode(
    x=alt.value(660), y=alt.value(570.5))
ring = alt.Chart(one).mark_point(shape="M-0.9,0A0.9,1,0,1,0,0.9,0A0.9,1,0,1,0,-0.9,0Z",
                                 filled=False, size=8649, strokeWidth=10,
                                 color=GREEN_NOTE, opacity=1).encode(
    x=alt.value(688.7), y=alt.value(631))

# exponent label
exp_main = alt.Chart(one).mark_text(align="left", baseline="alphabetic", fontSize=28,
                                    font=FONT, color="black").encode(
    x=alt.value(-1.5), y=alt.value(-8), text=alt.value("x 10"))
exp_sup = alt.Chart(one).mark_text(align="left", baseline="alphabetic", fontSize=17,
                                   font=FONT, color="black").encode(
    x=alt.value(54), y=alt.value(-29), text=alt.value("-8"))

# axis titles
x_title = alt.Chart(one).mark_text(align="center", baseline="alphabetic", fontSize=29,
                                   font=FONT, color="black").encode(
    x=alt.value(W / 2), y=alt.value(881), text=alt.value("Days since 1.1.2009"))
y_title = alt.Chart(one).mark_text(align="center", baseline="middle", fontSize=24, angle=270,
                                   font=FONT, color="black").encode(
    x=alt.value(-96), y=alt.value(431), text=alt.value("Rate in s/s"))

# legend
leg_box = alt.Chart(one).mark_rect(fill="white", stroke="#333333", strokeWidth=1).encode(
    x=alt.value(1213), x2=alt.value(1484), y=alt.value(637), y2=alt.value(753))
leg_old = alt.Chart(one).mark_point(shape="diamond", filled=True, size=30,
                                    color="#0A84C8", opacity=1).encode(
    x=alt.value(1248), y=alt.value(658))
leg_imp = alt.Chart(one).mark_point(shape="diamond", filled=True, size=30,
                                    color="#FF0000", opacity=1).encode(
    x=alt.value(1248), y=alt.value(694))
leg_avg = alt.Chart(one).mark_rule(color="#008000", strokeWidth=2.6).encode(
    x=alt.value(1223), x2=alt.value(1273), y=alt.value(730))
leg_t1 = alt.Chart(one).mark_text(align="left", baseline="alphabetic", fontSize=30,
                                  font=FONT, color="black").encode(
    x=alt.value(1277), y=alt.value(667), text=alt.value("Old rates"))
leg_t2 = alt.Chart(one).mark_text(align="left", baseline="alphabetic", fontSize=30,
                                  font=FONT, color="black").encode(
    x=alt.value(1277), y=alt.value(703), text=alt.value("Improved rates"))
leg_t3 = alt.Chart(one).mark_text(align="left", baseline="alphabetic", fontSize=30,
                                  font=FONT, color="black").encode(
    x=alt.value(1277), y=alt.value(739), text=alt.value("Averaged rate"))

chart = alt.layer(
    vlines, mlabels, yticks, xticks, old_pts, imp_pts, avg_line,
    note_box, note1, note2a, note2b, note2c, arrow_shaft, arrow_head, ring,
    exp_main, exp_sup, x_title, y_title,
    leg_box, leg_old, leg_imp, leg_avg, leg_t1, leg_t2, leg_t3,
).properties(
    width=W, height=H,
    autosize=alt.AutoSizeParams(type="none"),
    padding={"left": 123, "top": 50, "right": 38, "bottom": 68},
).configure_view(stroke=None).configure(background="white")

chart.save("out.html", embed_options={"renderer": "svg", "actions": False})
